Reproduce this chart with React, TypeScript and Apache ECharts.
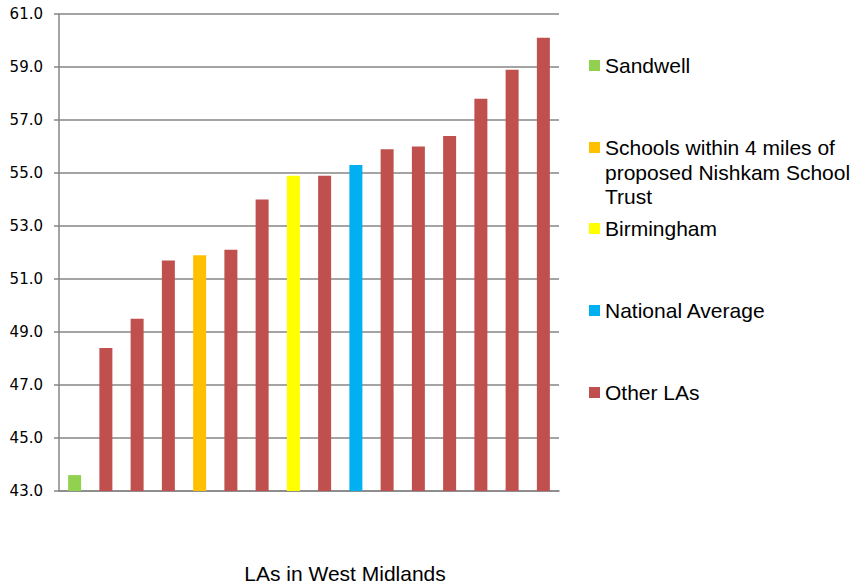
import React, { useEffect, useRef } from "react";
import * as echarts from "echarts";

// Local authorities, ordered by score (left to right)
const categories = [
  "Sandwell",
  "LA 2",
  "LA 3",
  "LA 4",
  "Schools within 4 miles",
  "LA 6",
  "LA 7",
  "Birmingham",
  "LA 9",
  "National Average",
  "LA 11",
  "LA 12",
  "LA 13",
  "LA 14",
  "LA 15",
  "LA 16",
];

const values = [43.6, 48.4, 49.5, 51.7, 51.9, 52.1, 54.0, 54.9, 54.9, 55.3, 55.9, 56.0, 56.4, 57.8, 58.9, 60.1];

// Which legend group each bar belongs to
const groupOf = [0, 4, 4, 4, 1, 4, 4, 2, 4, 3, 4, 4, 4, 4, 4, 4];

const groupNames = [
  "Sandwell",
  "Schools within 4 miles of proposed Nishkam School Trust",
  "Birmingham",
  "National Average",
  "Other LAs",
];

// Legend text as wrapped over lines
const groupLines = [
  ["Sandwell"],
  ["Schools within 4 miles of", "proposed Nishkam School", "Trust"],
  ["Birmingham"],
  ["National Average"],
  ["Other LAs"],
];

const groupColors = ["#92D050", "#FFC000", "#FFFF00", "#00B0F0", "#C0504D"];

const yTicks = { min: 43, max: 61, interval: 2 };

const xAxisTitle = "LAs in West Midlands";

const TEXT_FONT = "Liberation Sans, Arial, sans-serif";
const TEXT_SIZE = 21;

export default function App() {
  const ref = useRef<HTMLDivElement>(null);

  useEffect(() => {
    if (!ref.current) return;
    const chart = echarts.init(ref.current, null, { renderer: "svg" });

    const series = groupNames.map((name, g) => ({
      name,
      type: "bar",
      barWidth: 13,
      barGap: "-100%",
      itemStyle: { color: groupColors[g] },
      data: values.map((v, i) => (groupOf[i] === g ? v : null)),
    }));

    const legendCenters = [65.5, 147.5, 228.5, 310.5, 392.5];
    const lineH = 24.5;
    const legends = groupNames.map((name, g) => ({
      data: [name],
      orient: "vertical",
      left: 589,
      top: legendCenters[g] - lineH / 2,
      padding: 0,
      icon: "rect",
      itemWidth: 11,
      itemHeight: 11,
      itemGap: 0,
      selectedMode: false,
      formatter: () => groupLines[g][0],
      textStyle: {
        fontFamily: TEXT_FONT,
        fontSize: TEXT_SIZE,
        color: "#000",
        lineHeight: lineH,
      },
    }));

    // continuation lines of wrapped legend entries
    const extraLines: any[] = [];
    groupLines.forEach((lines, g) => {
      lines.slice(1).forEach((t, k) => {
        extraLines.push({
          type: "text",
          x: 605,
          y: legendCenters[g] + (k + 1) * lineH,
          style: {
            text: t,
            fontFamily: TEXT_FONT,
            fontSize: TEXT_SIZE,
            fill: "#000",
            textVerticalAlign: "middle",
            verticalAlign: "middle",
          },
        });
      });
    });

    chart.setOption({
      animation: false,
      backgroundColor: "#fff",
      grid: { left: 59, right: 297, top: 14, bottom: 93, containLabel: false },
      legend: legends,
      xAxis: {
        type: "category",
        data: categories,
        axisLabel: { show: false },
        axisTick: { show: false },
        axisLine: { show: true, lineStyle: { color: "#868686", width: 1.5 } },
      },
      yAxis: {
        type: "value",
        min: yTicks.min,
        max: yTicks.max,
        interval: yTicks.interval,
        axisLine: { show: true, lineStyle: { color: "#868686", width: 1.5 } },
        axisTick: { show: true, length: 5, lineStyle: { color: "#868686", width: 1.5 } },
        splitLine: { show: true, lineStyle: { color: "#868686", width: 1.5 } },
        axisLabel: {
          margin: 16,
          formatter: (v: number) => v.toFixed(1),
          fontFamily: "DejaVu Sans, Verdana, sans-serif",
          fontSize: 15,
          color: "#000",
        },
      },
      graphic: [
        ...extraLines,
        {
          type: "text",
          x: 345,
          y: 573,
          style: {
            text: xAxisTitle,
            fontFamily: TEXT_FONT,
            fontSize: TEXT_SIZE,
            fill: "#000",
            textAlign: "center",
            align: "center",
            textVerticalAlign: "middle",
            verticalAlign: "middle",
          },
        },
      ],
      series,
    });

    return () => chart.dispose();
  }, []);

  return (
    <div
      ref={ref}
      style={{ position: "absolute", left: 0, top: 0, width: 856, height: 584 }}
    />
  );
}
